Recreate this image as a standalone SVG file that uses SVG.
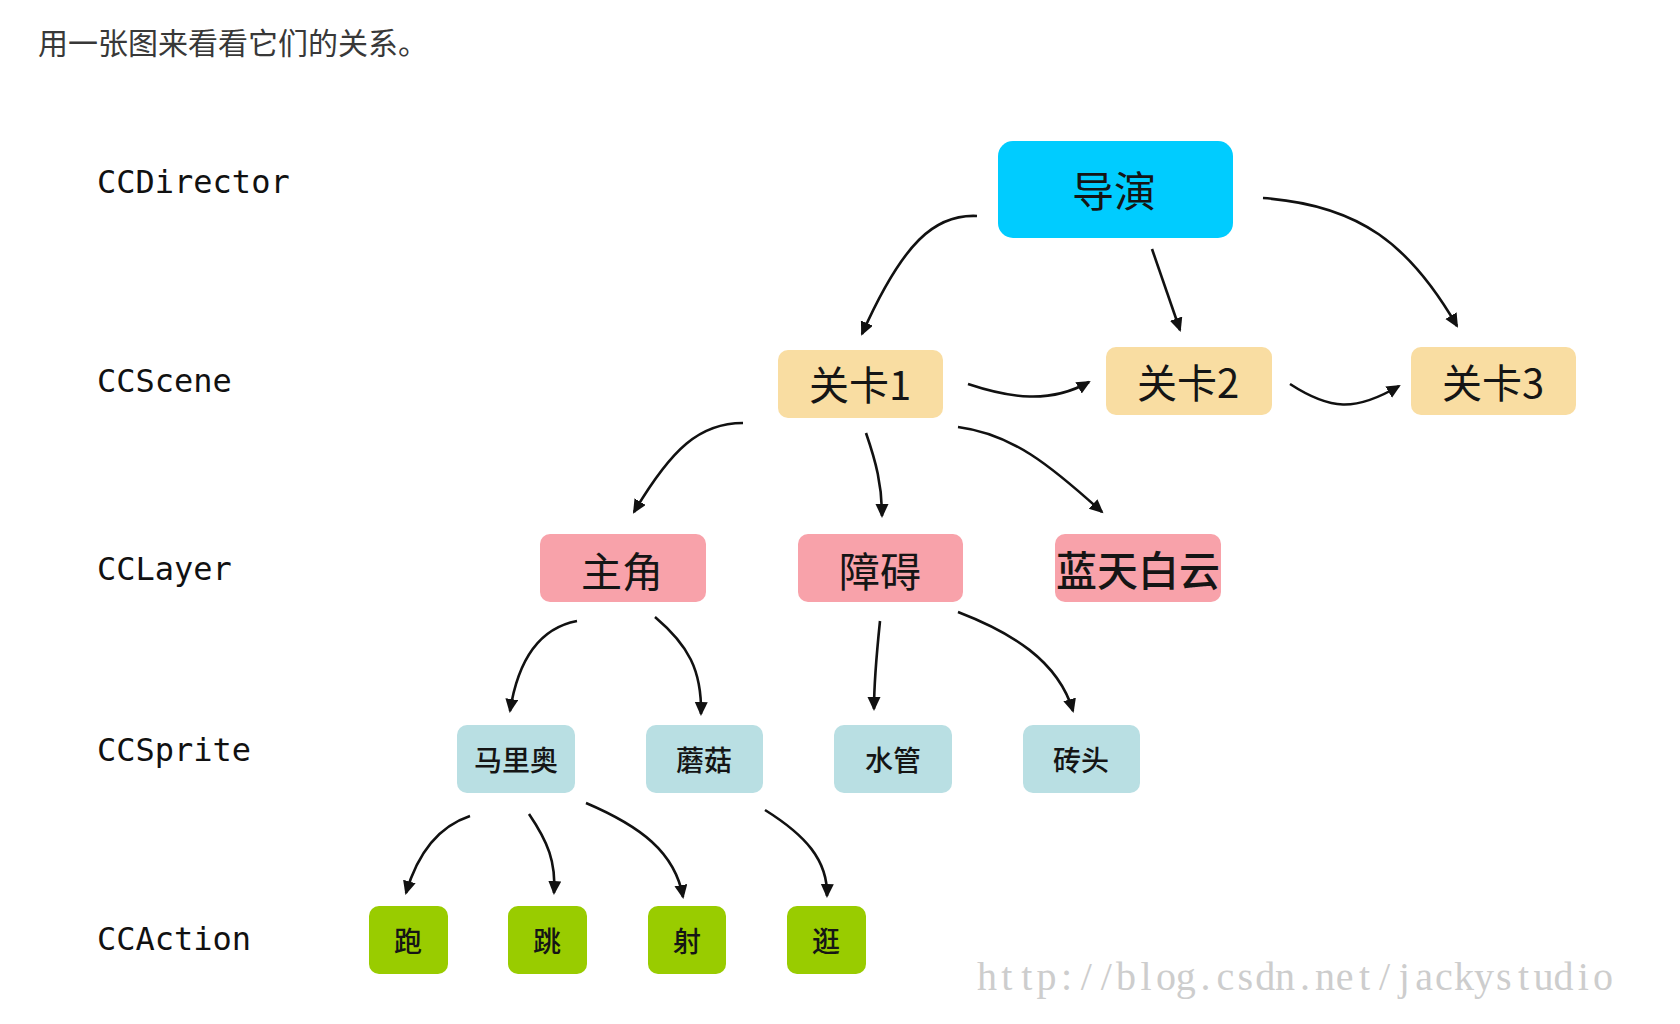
<svg xmlns="http://www.w3.org/2000/svg" width="1680" height="1024" viewBox="0 0 1680 1024">
  <defs>
    <style>
      .title { font-family: "Noto Sans CJK SC", "Noto Sans", sans-serif; font-size: 30px; fill: #383838; }
      .cls { font-family: "DejaVu Sans Mono", "Liberation Mono", monospace; font-size: 32px; fill: #111; }
      .lbl { font-family: "Noto Sans CJK SC", "Noto Sans", sans-serif; fill: #151515; text-anchor: middle; }
      .big { font-size: 41px; }
      .small { font-size: 28px; font-weight: 500; }
      .director { fill: #00CCFF; }
      .scene { fill: #F9DDA2; }
      .layer { fill: #F8A2AA; }
      .sprite { fill: #B9DFE3; }
      .action { fill: #99CC00; }
      .edge { fill: none; stroke: #111; stroke-width: 2.6; }
      .mark { font-family: "Liberation Serif", "DejaVu Serif", serif; font-size: 40px; fill: #cdcdcd; }
    </style>
    <marker id="arrow" markerUnits="userSpaceOnUse" markerWidth="16" markerHeight="14" refX="12" refY="6.5" orient="auto">
      <path d="M0,0 L14,6.5 L0,13 Z" fill="#111"/>
    </marker>
  </defs>

  <rect width="1680" height="1024" fill="#fff"/>

  <text class="title" x="38" y="54">用一张图来看看它们的关系。</text>

  <!-- class names of each level -->
  <g id="levels">
    <text class="cls" x="97" y="193">CCDirector</text>
    <text class="cls" x="97" y="392">CCScene</text>
    <text class="cls" x="97" y="580">CCLayer</text>
    <text class="cls" x="97" y="761">CCSprite</text>
    <text class="cls" x="97" y="950">CCAction</text>
  </g>

  <!-- connectors -->
  <g id="connectors">
    <path class="edge" marker-end="url(#arrow)" d="M977,216 C935,214 903,242 862,334"/>
    <path class="edge" marker-end="url(#arrow)" d="M1152,249 L1180,330"/>
    <path class="edge" marker-end="url(#arrow)" d="M1263,198 C1360,205 1410,245 1457,326"/>
    <path class="edge" marker-end="url(#arrow)" d="M968,384 C1010,398 1050,404 1089,382"/>
    <path class="edge" marker-end="url(#arrow)" d="M1290,384 C1330,410 1355,412 1399,386"/>
    <path class="edge" marker-end="url(#arrow)" d="M743,423 C700,423 672,448 634,512"/>
    <path class="edge" marker-end="url(#arrow)" d="M866,433 C876,462 882,485 882,516"/>
    <path class="edge" marker-end="url(#arrow)" d="M958,427 C1012,434 1050,465 1102,512"/>
    <path class="edge" marker-end="url(#arrow)" d="M577,621 C540,628 518,660 510,711"/>
    <path class="edge" marker-end="url(#arrow)" d="M655,617 C688,645 702,670 701,714"/>
    <path class="edge" marker-end="url(#arrow)" d="M880,621 C877,650 874,680 874,709"/>
    <path class="edge" marker-end="url(#arrow)" d="M958,612 C1010,632 1058,660 1073,711"/>
    <path class="edge" marker-end="url(#arrow)" d="M470,816 C440,826 418,852 406,893"/>
    <path class="edge" marker-end="url(#arrow)" d="M529,814 C548,842 556,862 554,893"/>
    <path class="edge" marker-end="url(#arrow)" d="M586,803 C640,826 675,852 683,897"/>
    <path class="edge" marker-end="url(#arrow)" d="M765,810 C805,835 828,860 827,896"/>
  </g>

  <!-- CCDirector -->
  <g id="director">
    <rect class="director" x="998" y="141" width="235" height="97" rx="15"/>
    <text class="lbl" x="1114" y="207" font-size="42">导演</text>
  </g>

  <!-- CCScene -->
  <g id="scene1">
    <rect class="scene" x="778" y="350" width="165" height="68" rx="10"/>
    <text class="lbl" x="860" y="400" font-size="40">关卡1</text>
  </g>
  <g id="scene2">
    <rect class="scene" x="1106" y="347" width="166" height="68" rx="10"/>
    <text class="lbl" x="1188" y="398" font-size="40">关卡2</text>
  </g>
  <g id="scene3">
    <rect class="scene" x="1411" y="347" width="165" height="68" rx="10"/>
    <text class="lbl" x="1493" y="398" font-size="40">关卡3</text>
  </g>

  <!-- CCLayer -->
  <g id="layer-hero">
    <rect class="layer" x="540" y="534" width="166" height="68" rx="10"/>
    <text class="lbl big" x="622" y="587">主角</text>
  </g>
  <g id="layer-obstacle">
    <rect class="layer" x="798" y="534" width="165" height="68" rx="10"/>
    <text class="lbl big" x="880" y="587">障碍</text>
  </g>
  <g id="layer-sky">
    <rect class="layer" x="1055" y="534" width="166" height="68" rx="10"/>
    <text class="lbl" x="1138" y="586" font-size="41" font-weight="500">蓝天白云</text>
  </g>

  <!-- CCSprite -->
  <g id="sprite-mario">
    <rect class="sprite" x="457" y="725" width="118" height="68" rx="10"/>
    <text class="lbl small" x="516" y="771">马里奥</text>
  </g>
  <g id="sprite-mushroom">
    <rect class="sprite" x="646" y="725" width="117" height="68" rx="10"/>
    <text class="lbl small" x="704" y="771">蘑菇</text>
  </g>
  <g id="sprite-pipe">
    <rect class="sprite" x="834" y="725" width="118" height="68" rx="10"/>
    <text class="lbl small" x="893" y="771">水管</text>
  </g>
  <g id="sprite-brick">
    <rect class="sprite" x="1023" y="725" width="117" height="68" rx="10"/>
    <text class="lbl small" x="1081" y="771">砖头</text>
  </g>

  <!-- CCAction -->
  <g id="action-run">
    <rect class="action" x="369" y="906" width="79" height="68" rx="10"/>
    <text class="lbl small" x="408" y="952">跑</text>
  </g>
  <g id="action-jump">
    <rect class="action" x="508" y="906" width="79" height="68" rx="10"/>
    <text class="lbl small" x="547" y="952">跳</text>
  </g>
  <g id="action-shoot">
    <rect class="action" x="648" y="906" width="78" height="68" rx="10"/>
    <text class="lbl small" x="687" y="952">射</text>
  </g>
  <g id="action-stroll">
    <rect class="action" x="787" y="906" width="79" height="68" rx="10"/>
    <text class="lbl small" x="826" y="952">逛</text>
  </g>

  <!-- blog address, set on a fixed-pitch grid -->
  <text class="mark" y="990" x="977 1001.3 1021.2 1036.6 1060.9 1080.8 1100.7 1116.1 1140.4 1155.9 1175.8 1200.5 1216.5 1237.5 1255.3 1275.1 1299.9 1314.9 1335.8 1359 1378.9 1398.8 1415.3 1435.1 1454 1473.9 1495.9 1518 1533.5 1553.4 1577.7 1593.1">http://blog.csdn.net/jackystudio</text>
</svg>
